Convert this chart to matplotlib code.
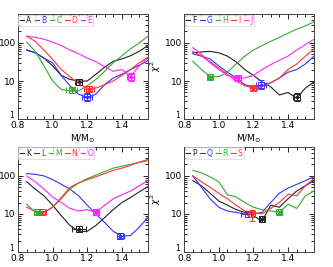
import numpy as np
import matplotlib
matplotlib.use("Agg")
from matplotlib import pyplot as plt
from matplotlib import transforms
from matplotlib.ticker import MultipleLocator, LogLocator, NullFormatter

masses = [0.85, 0.90, 0.95, 1.00, 1.05, 1.10, 1.15, 1.20, 1.25, 1.30, 1.35, 1.40, 1.45, 1.50, 1.55]

# panel 1
chi_A = [65, 55, 40, 25, 14, 11, 10, 10, 15, 23, 33, 38, 46, 60, 85]
chi_B = [65, 55, 40, 30, 14, 7.5, 4.5, 3.7, 4.5, 8, 12, 15, 20, 26, 34]
chi_C = [105, 60, 25, 10, 6, 5.5, 5.5, 7.5, 11, 18, 30, 46, 70, 100, 150]
chi_D = [150, 110, 65, 37, 20, 13, 8.5, 6.5, 6.5, 8, 10, 14, 20, 30, 42]
chi_E = [150, 140, 125, 105, 85, 65, 52, 40, 32, 24, 18, 20, 13, 25, 40]
# panel 2
chi_F = [55, 58, 60, 55, 45, 32, 20, 14, 9.5, 7, 4.3, 5, 3.5, 6.5, 9.5]
chi_G = [52, 45, 38, 25, 17, 12, 8, 7, 7.5, 9, 12, 17, 20, 28, 45]
chi_H = [33, 20, 13, 13, 17, 28, 45, 65, 85, 110, 140, 180, 230, 280, 360]
chi_I = [60, 45, 32, 22, 15, 10, 7.5, 6.5, 7, 9, 12, 20, 28, 45, 70]
chi_J = [75, 50, 30, 20, 14, 12, 12, 14, 20, 27, 35, 45, 65, 90, 125]
# panel 3
chi_K = [70, 45, 30, 17, 9, 5, 3.5, 3.5, 5, 8, 13, 20, 27, 38, 52]
chi_L = [115, 110, 100, 80, 60, 45, 30, 17, 10, 6, 3.5, 2.6, 2.7, 4.5, 8]
chi_M = [18, 11, 11, 15, 25, 45, 65, 85, 105, 130, 160, 180, 200, 225, 250]
chi_N = [15, 12, 11, 15, 27, 50, 65, 80, 95, 115, 140, 160, 190, 230, 270]
chi_O = [100, 70, 45, 28, 20, 14, 12, 13, 11, 17, 25, 32, 40, 55, 75]
# panel 4
chi_P = [75, 55, 35, 22, 17, 13, 11, 9, 6.5, 17, 15, 25, 40, 55, 75]
chi_Q = [100, 50, 25, 15, 12, 11, 10, 10, 11, 20, 35, 48, 60, 75, 95]
chi_R = [140, 120, 95, 70, 32, 28, 20, 15, 13, 12, 11, 18, 14, 30, 40]
chi_S = [100, 70, 50, 35, 25, 17, 12, 11, 10, 14, 20, 33, 30, 55, 85]

# best fit points: label -> (mass, chi2, xerr, yerr_lo, yerr_hi)
best = {
    "A": (1.15, 9.5, 0.02, 1.5, 1.5), "B": (1.20, 3.8, 0.03, 0.9, 1.0),
    "C": (1.11, 5.8, 0.03, 0.9, 0.9), "D": (1.21, 6.3, 0.03, 0.9, 0.9),
    "E": (1.45, 13, 0.02, 3.0, 3.0),
    "F": (1.45, 3.7, 0.02, 0.8, 1.0), "G": (1.245, 8, 0.03, 2.0, 2.5),
    "H": (0.95, 13, 0.01, 2.0, 2.0), "I": (1.20, 6.5, 0.02, 0.8, 0.8),
    "J": (1.11, 12, 0.02, 1.5, 1.5),
    "K": (1.15, 4.0, 0.04, 0.7, 0.9), "L": (1.39, 2.7, 0.02, 0.4, 0.4),
    "M": (0.91, 11, 0.02, 1.0, 1.0), "N": (0.94, 11, 0.02, 1.0, 1.0),
    "O": (1.25, 11, 0.01, 1.5, 1.5),
    "P": (1.25, 7.5, 0.01, 1.5, 1.5), "Q": (1.17, 10, 0.04, 1.5, 1.5),
    "R": (1.35, 11, 0.01, 1.2, 1.2), "S": (1.19, 10, 0.02, 3.5, 3.0),
}

colors = ["#222222", "#3333ff", "#33aa33", "#ff3333", "#ff22ff"]

panels = [
    (["A", "B", "C", "D", "E"], [chi_A, chi_B, chi_C, chi_D, chi_E]),
    (["F", "G", "H", "I", "J"], [chi_F, chi_G, chi_H, chi_I, chi_J]),
    (["K", "L", "M", "N", "O"], [chi_K, chi_L, chi_M, chi_N, chi_O]),
    (["P", "Q", "R", "S"], [chi_P, chi_Q, chi_R, chi_S]),
]

fig = plt.figure(figsize=(3.33, 2.67), dpi=100)
boxes = [(0.054, 0.554), (0.553, 0.554), (0.054, 0.056), (0.553, 0.056)]
W, H = 0.390, 0.393
lift = transforms.ScaledTranslation(-1.5 / 72, 3.5 / 72, fig.dpi_scale_trans)

for i, ((names, series), (x0, y0)) in enumerate(zip(panels, boxes)):
    ax = fig.add_axes([x0, y0, W, H])
    for name, vals, c in zip(names, series, colors):
        ax.plot(masses, vals, '-', color=c, lw=0.8, label=name)
        m, v, xe, ylo, yhi = best[name]
        ax.errorbar([m], [v], xerr=[[xe], [xe]], yerr=[[ylo], [yhi]],
                    fmt='s', ms=5, mfc='none', mec=c, ecolor=c,
                    elinewidth=0.7, capsize=2, mew=0.7)
        ax.plot([m], [v], '.', color=c, ms=3)
    ax.set_yscale('log')
    ax.set_xlim(0.8, 1.55)
    ax.set_ylim(1, 570)
    ax.xaxis.set_minor_locator(MultipleLocator(0.05))
    ax.yaxis.set_minor_locator(LogLocator(subs=np.arange(2, 10)))
    ax.yaxis.set_minor_formatter(NullFormatter())
    ax.set_xticks([0.8, 1.0, 1.2, 1.4])
    ax.set_xticklabels(["0.8", "1.0", "1.2", "1.4"])
    ax.set_yticks([1, 10, 100])
    ax.set_yticklabels(["1", "10", "100"])
    ax.tick_params(which='both', direction='in', top=True, right=True,
                   labelsize=6.5, pad=1.5, width=0.6)
    ax.tick_params(which='major', length=3.5)
    ax.tick_params(which='minor', length=2)
    one = ax.get_yticklabels()[0]
    one.set_transform(one.get_transform() + lift)
    one.set_fontsize(5.5)
    for s in ax.spines.values():
        s.set_linewidth(0.7)
        s.set_color('#444444')
    if i < 2:
        ax.set_xlabel(r"M/M$_{\odot}$", fontsize=6.5, labelpad=2)
    if i % 2 == 1:
        ax.set_ylabel(r"$\chi^2$", fontsize=6.5, labelpad=1)
    leg = ax.legend(loc='upper left', ncol=len(names), fontsize=5.5,
                    handlelength=0.6, handletextpad=0.25, columnspacing=0.45,
                    borderpad=0.15, borderaxespad=0.05, labelcolor='linecolor',
                    frameon=True, fancybox=False, edgecolor='#cccccc')
    leg.get_frame().set_linewidth(0.5)

fig.savefig("out.png", dpi=100)
